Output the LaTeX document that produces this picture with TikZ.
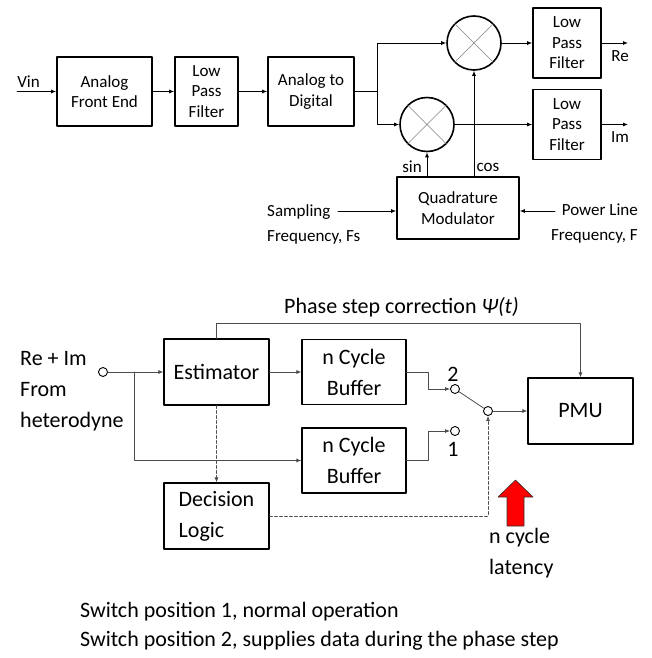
\documentclass[tikz,border=0pt]{standalone}
\usepackage{fontspec}
\setmainfont{Carlito}
\usetikzlibrary{arrows.meta, calc, positioning}
\tikzset{
  >={Latex[length=5pt, width=4pt]},
  every picture/.style={line cap=round, line join=round},
  toptxt/.style={font=\fontsize{17}{20.5}\selectfont},
  bottxt/.style={font=\fontsize{22}{31}\selectfont},
  % blocks of the heterodyne chain (heavy frame)
  blk/.style={draw, line width=1.6pt, align=center, inner sep=0pt, toptxt},
  % blocks of the estimator (lighter frame)
  bbox/.style={draw, line width=1.1pt, align=center, inner sep=0pt, bottxt},
  mix/.style={draw, circle, line width=1.6pt, minimum size=54pt, inner sep=0pt},
  port/.style={draw, circle, line width=0.9pt, minimum size=9pt, inner sep=0pt, fill=white},
  wire/.style={black!70, line width=0.8pt},
  ctrl/.style={black!70, line width=0.7pt, dash pattern=on 3pt off 2pt},
}

\begin{document}
\begin{tikzpicture}[x=1pt, y=-1pt]
  \useasboundingbox (0,0) rectangle (651,658);
  % heterodyne front end
  \coordinate (vin) at (17,91.5);
  \node[toptxt] (vinlbl) at (28.5,82) {Vin};
  \node[blk, minimum width=95pt, minimum height=69pt] (afe) at (104.5,91.5) {Analog\\Front End};
  \node[blk, minimum width=63pt, minimum height=69pt] (lpf) at (206.5,91.5) {Low\\Pass\\Filter};
  \node[blk, minimum width=86pt, minimum height=69pt] (adc) at (311,91.5) {Analog to\\Digital};
  \coordinate (split) at (377,91.5);
  \node[mix] (mixre) at (474,43) {};
  \node[mix] (mixim) at (427,124.5) {};
  \foreach \m in {mixre, mixim}
    \draw[gray, line width=0.6pt] (\m.45) -- (\m.225) (\m.135) -- (\m.315);
  \node[blk, minimum width=68pt, minimum height=70pt] (lpfre) at (567,43) {Low\\Pass\\Filter};
  \node[blk, minimum width=68pt, minimum height=70pt] (lpfim) at (567,124.5) {Low\\Pass\\Filter};
  \coordinate (reout) at (628,43);
  \coordinate (imout) at (628,124.5);
  \node[toptxt] (relbl) at (620,56) {Re};
  \node[toptxt] (imlbl) at (620,137) {Im};
  \node[blk, minimum width=122pt, minimum height=62pt] (qm) at (458,208) {Quadrature\\Modulator};
  \node[toptxt] (sinlbl) at (412,167) {sin};
  \node[toptxt] (coslbl) at (488,167) {cos};
  \node[font=\fontsize{17}{25}\selectfont, align=left, anchor=west, inner sep=0pt] (fslbl) at (267,224) {Sampling\\Frequency, Fs};
  \node[font=\fontsize{17}{25}\selectfont, align=right, anchor=east, inner sep=0pt] (flbl) at (638,224) {Power Line\\Frequency, F};
  \coordinate (fsin) at (338,211);
  \coordinate (fin) at (555,211);
  \draw[->, line width=0.8pt] (vin) -- (afe);
  \draw[->, line width=0.8pt] (afe) -- (lpf);
  \draw[->, line width=0.8pt] (lpf) -- (adc);
  \draw[line width=0.8pt] (adc.east) -- (split);
  \draw[->, line width=0.8pt] (split) |- (mixre);
  \draw[->, line width=0.8pt] (split) |- (mixim);
  \draw[->, line width=0.8pt] (mixre) -- (lpfre);
  \draw[->, line width=0.8pt] (mixim) -- (lpfim);
  \draw[->, line width=0.8pt] (lpfre) -- (reout);
  \draw[->, line width=0.8pt] (lpfim) -- (imout);
  \draw[->, line width=0.8pt] (qm.north -| mixim) -- (mixim);
  \draw[->, line width=0.8pt] (qm.north -| mixre) -- (mixre);
  \draw[->, line width=0.8pt] (fsin) -- (fsin -| qm.west);
  \draw[->, line width=0.8pt] (fin) -- (fin -| qm.east);

  % phase step handling
  \node[bottxt] (psilbl) at (401.5,307) {Phase step correction \textit{Ψ(t)}};
  \node[bottxt, align=left, anchor=west, inner sep=0pt] (srclbl) at (20,391) {Re + Im\\From\\heterodyne};
  \node[port] (inp) at (103,372) {};
  \node[bbox, minimum width=105pt, minimum height=66pt] (est) at (216.5,372) {Estimator};
  \node[bbox, minimum width=104pt, minimum height=65pt] (bufa) at (354,372) {n Cycle\\Buffer};
  \node[bbox, minimum width=104pt, minimum height=65pt] (bufb) at (354,460.5) {n Cycle\\Buffer};
  \node[bbox, align=left, minimum width=105pt, minimum height=66pt] (dec) at (216.5,516) {Decision\\Logic};
  \node[bbox, minimum width=105pt, minimum height=66pt] (pmu) at (580.5,411) {PMU};
  \node[port] (swb) at (455,389) {};
  \node[port] (swa) at (455,431) {};
  \node[port] (piv) at (488,411) {};
  \node[bottxt] (twolbl) at (453,374) {2};
  \node[bottxt] (onelbl) at (453,449) {1};
  \coordinate (tap) at (134,372);
  \coordinate (fbtop) at (0,323);
  \draw[->, wire] (inp) -- (est);
  \draw[->, wire] (tap) |- (bufb);
  \draw[->, wire] (est) -- (bufa);
  \draw[->, wire] (bufa.east) -- ++(22,0) |- (swb);
  \draw[->, wire] (bufb.east) -- ++(22,0) |- (swa);
  \draw[wire] (swb) -- (piv);
  \draw[->, wire] (piv) -- (pmu);
  \draw[->, wire] (est.north) -- (est.north |- fbtop) -| (pmu.north);
  \draw[->, ctrl] (est) -- (dec);
  \draw[->, ctrl] (dec.east) -| (piv);
  % latency marker
  \filldraw[fill=red, draw=black!80, line width=0.6pt] (498,497) -- (515.5,480) -- (533,497)
    -- (524,497) -- (524,526) -- (507,526) -- (507,497) -- cycle;
  \node[bottxt, align=left, anchor=west, inner sep=0pt] (latlbl) at (489,553) {n cycle\\latency};
  \node[font=\fontsize{22}{29}\selectfont, align=left, anchor=west, inner sep=0pt] (notes) at (80,626.5)
    {Switch position 1, normal operation\\Switch position 2, supplies data during the phase step};
\end{tikzpicture}
\end{document}
